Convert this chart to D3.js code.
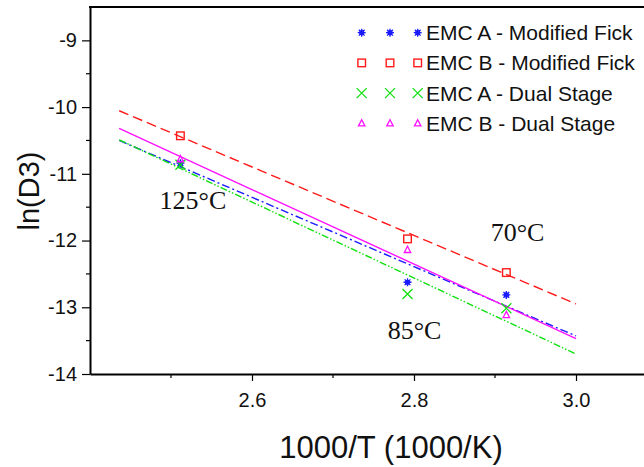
<!DOCTYPE html>
<html><head><meta charset="utf-8">
<script src="https://cdn.jsdelivr.net/npm/d3@7"></script>
<style>body{margin:0;background:#fff}svg{display:block}</style>
</head><body>
<svg id="c" width="644" height="467"></svg>
<script>
// ---- data ----
const xTemps = [2.5116, 2.792, 2.914];           // 1000/T for 125, 85, 70 °C
const emcA_MF = [-10.84, -12.625, -12.815];
const emcB_MF = [-10.43, -11.975, -12.48];
const emcA_DS = [-10.865, -12.80, -13.015];
const emcB_DS = [-10.78, -12.14, -13.115];
const fitX = [2.436, 3.0];
const fitA_MF = [-10.50, -13.43];
const fitB_MF = [-10.055, -12.95];
const fitA_DS = [-10.49, -13.70];
const fitB_DS = [-10.32, -13.47];
const seriesNames = ["EMC A - Modified Fick", "EMC B - Modified Fick", "EMC A - Dual Stage", "EMC B - Dual Stage"];
const xMajorTicks = [2.6, 2.8, 3.0];
const xMinorTicks = [2.5, 2.7, 2.9];
const yMajorTicks = [-14, -13, -12, -11, -10, -9];
const yMinorTicks = [-13.5, -12.5, -11.5, -10.5, -9.5];
const annotations = [{t:"125°C", x:2.4858, y:-11.53}, {t:"85°C", x:2.7675, y:-13.48}, {t:"70°C", x:2.8947, y:-12.0}];

const series = [
  {name: seriesNames[0], y: emcA_MF, fit: fitA_MF, color: "#1a1aff", marker: "ast", dash: "8,3,2,3"},
  {name: seriesNames[1], y: emcB_MF, fit: fitB_MF, color: "#ff1a1a", marker: "sq", dash: "10,5"},
  {name: seriesNames[2], y: emcA_DS, fit: fitA_DS, color: "#10e010", marker: "x", dash: "7,2,1.5,2,1.5,2"},
  {name: seriesNames[3], y: emcB_DS, fit: fitB_DS, color: "#ff10ff", marker: "tri", dash: null}
];

const svg = d3.select("#c");
const x = d3.scaleLinear().domain([2.4, 3.1]).range([90, 657]);
const y = d3.scaleLinear().domain([-14, -8.5]).range([374, 7]);

// fit lines
const line = d3.line().x(d => x(d[0])).y(d => y(d[1]));
series.forEach(s => {
  svg.append("path")
    .attr("d", line(fitX.map((xv, i) => [xv, s.fit[i]])))
    .attr("fill", "none").attr("stroke", s.color).attr("stroke-width", 1.4)
    .attr("stroke-dasharray", s.dash);
});

function drawMarker(g, type, color) {
  if (type === "sq") {
    g.append("rect").attr("x", -3.8).attr("y", -3.8).attr("width", 7.6).attr("height", 7.6)
      .attr("fill", "none").attr("stroke", color).attr("stroke-width", 1.4);
  } else if (type === "x") {
    g.append("path").attr("d", "M-5,-5L5,5M-5,5L5,-5").attr("stroke", color).attr("stroke-width", 1.3).attr("fill", "none");
  } else if (type === "tri") {
    g.append("path").attr("d", "M0,-3.6L3.2,2.6L-3.2,2.6Z").attr("fill", "none").attr("stroke", color).attr("stroke-width", 1.3);
  } else if (type === "ast") {
    g.append("circle").attr("r", 2.6).attr("fill", color);
    g.append("path").attr("d", "M0,-4L0,4M-4,0L4,0M-2.9,-2.9L2.9,2.9M-2.9,2.9L2.9,-2.9")
      .attr("stroke", color).attr("stroke-width", 1.3);
  }
}

// data points
series.forEach(s => {
  xTemps.forEach((xv, i) => {
    const g = svg.append("g").attr("transform", `translate(${x(xv)},${y(s.y[i])})`);
    drawMarker(g, s.marker, s.color);
  });
});

// axes
const font = "Arial, 'Liberation Sans', sans-serif";
const xAxis = svg.append("g").attr("transform", "translate(0,374)")
  .call(d3.axisBottom(x).tickValues(xMajorTicks).tickSize(7).tickSizeOuter(0).tickFormat(d3.format(".1f")));
xAxis.append("g").selectAll("line").data(xMinorTicks).join("line")
  .attr("x1", d => x(d)).attr("x2", d => x(d)).attr("y1", 0).attr("y2", 4).attr("stroke", "#000").attr("stroke-width", 1.2);
xAxis.selectAll(".tick line").attr("stroke-width", 1.2);
xAxis.selectAll(".tick text").attr("font-family", font).attr("font-size", 20).attr("fill", "#111").attr("dy", "0").attr("y", 33);
xAxis.select(".domain").attr("stroke-width", 2);

const yAxis = svg.append("g").attr("transform", "translate(90,0)")
  .call(d3.axisLeft(y).tickValues(yMajorTicks).tickSize(8).tickSizeOuter(0).tickFormat(d3.format("d")));
yAxis.append("g").selectAll("line").data(yMinorTicks).join("line")
  .attr("y1", d => y(d)).attr("y2", d => y(d)).attr("x1", 0).attr("x2", -4).attr("stroke", "#000").attr("stroke-width", 1.2);
yAxis.selectAll(".tick line").attr("stroke-width", 1.2);
yAxis.selectAll(".tick text").attr("font-family", font).attr("font-size", 20).attr("fill", "#111").attr("x", -13)
  .text(d => d3.format("d")(d).replace("−", "-"));
yAxis.select(".domain").attr("stroke-width", 2);

// top frame
svg.append("line").attr("x1", 89).attr("x2", 644).attr("y1", 7).attr("y2", 7).attr("stroke", "#000").attr("stroke-width", 2);

// axis titles
svg.append("text").attr("x", 391).attr("y", 458).attr("text-anchor", "middle")
  .attr("font-family", font).attr("font-size", 31).attr("fill", "#111").text("1000/T (1000/K)");
svg.append("text").attr("transform", "translate(39,191) rotate(-90)").attr("text-anchor", "middle")
  .attr("font-family", font).attr("font-size", 29).attr("fill", "#111").text("ln(D3)");

// annotations
annotations.forEach(a => {
  svg.append("text").attr("x", x(a.x)).attr("y", y(a.y))
    .attr("font-family", "'Liberation Serif', 'Times New Roman', serif").attr("font-size", 26).attr("fill", "#111").text(a.t);
});

// legend
const legMarkX = [361.7, 390, 417.7];
series.forEach((s, i) => {
  const cy = 32.7 + i * 30.2;
  legMarkX.forEach(mx => {
    const g = svg.append("g").attr("transform", `translate(${mx},${cy})`);
    drawMarker(g, s.marker, s.color);
  });
  svg.append("text").attr("x", 426).attr("y", cy + 7.4).attr("font-family", font).attr("font-size", 21)
    .attr("fill", "#111").text(s.name);
});
</script>
</body></html>
